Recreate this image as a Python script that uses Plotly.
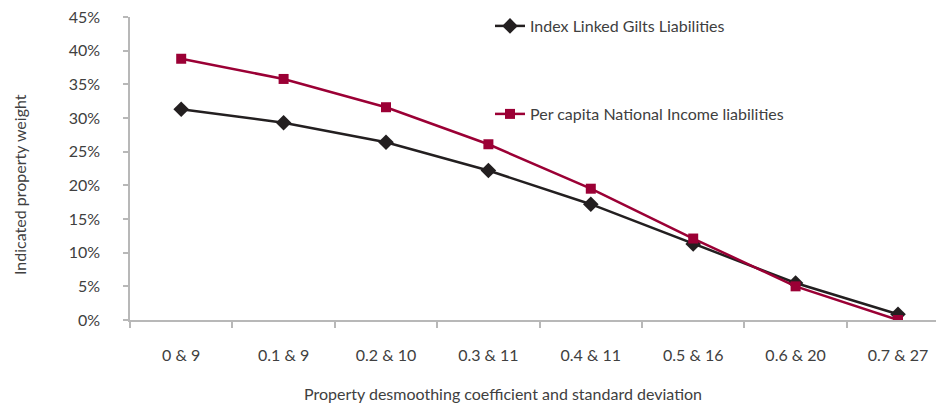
import plotly.graph_objects as go

categories = ["0 & 9", "0.1 & 9", "0.2 & 10", "0.3 & 11", "0.4 & 11", "0.5 & 16", "0.6 & 20", "0.7 & 27"]
gilts = [0.313, 0.293, 0.264, 0.222, 0.172, 0.113, 0.055, 0.0085]
national_income = [0.388, 0.358, 0.316, 0.261, 0.195, 0.121, 0.050, 0.0]
y_ticks = [0, 0.05, 0.10, 0.15, 0.20, 0.25, 0.30, 0.35, 0.40, 0.45]

FONT = "Lato"
TXT = "#404040"
AX = "#b8b8b8"
BLACK = "#231f20"
RED = "#9b0035"

OFF = 8  # page body margin in the browser
W, H = 944 - OFF, 404 - OFF
L, T = 130 - OFF, 17 - OFF
AXIS_Y = 320 - OFF
B = H - AXIS_Y
R = 0

pw = W - L - R
ph = H - T - B
PX_PER_CAT = 102.4


def px_x(wx):
    return (wx - OFF - L) / pw


def px_y(wy):
    return (AXIS_Y - (wy - OFF)) / ph


fig = go.Figure()
fig.add_trace(go.Scatter(
    x=categories, y=gilts, mode="lines+markers", name="Index Linked Gilts Liabilities",
    line=dict(color=BLACK, width=2.5), marker=dict(symbol="diamond", size=12, color=BLACK),
    legend="legend",
))
fig.add_trace(go.Scatter(
    x=categories, y=national_income, mode="lines+markers", name="Per capita National Income liabilities",
    line=dict(color=RED, width=2.5), marker=dict(symbol="square", size=10, color=RED),
    legend="legend2",
))

fig.update_layout(
    width=W, height=H,
    margin=dict(l=L, r=R, t=T, b=B, autoexpand=False, pad=0),
    paper_bgcolor="white", plot_bgcolor="white",
    font=dict(family=FONT, size=15, color=TXT),
    xaxis=dict(
        type="category", range=[-0.5, -0.5 + pw / PX_PER_CAT], showgrid=False, zeroline=False,
        showline=True, linecolor=AX, linewidth=1.5,
        ticks="outside", ticklen=6, tickcolor=AX, tickwidth=1.5, tickson="boundaries",
        ticklabelstandoff=20, tickfont=dict(family=FONT, size=16, color=TXT),
    ),
    yaxis=dict(
        range=[0, 0.45], tickvals=y_ticks, tickformat=".0%", showgrid=False, zeroline=False,
        showline=True, linecolor=AX, linewidth=1.5, ticklabeloverflow="allow",
        ticks="outside", ticklen=5, tickcolor=AX, tickwidth=1.5,
        ticklabelstandoff=20, tickfont=dict(family=FONT, size=16, color=TXT),
    ),
    legend=dict(x=px_x(490), y=px_y(26), xanchor="left", yanchor="middle",
                bgcolor="rgba(0,0,0,0)", font=dict(family=FONT, size=16, color=TXT)),
    legend2=dict(x=px_x(490), y=px_y(114), xanchor="left", yanchor="middle",
                 bgcolor="rgba(0,0,0,0)", font=dict(family=FONT, size=16, color=TXT)),
    showlegend=True,
    annotations=[
        dict(text="Indicated property weight", xref="paper", yref="paper",
             x=px_x(19), y=px_y(185), textangle=-90, showarrow=False,
             xanchor="center", yanchor="middle", font=dict(family=FONT, size=16, color=TXT)),
        dict(text="Property desmoothing coefficient and standard deviation", xref="paper", yref="paper",
             x=px_x(503), y=px_y(393), showarrow=False,
             xanchor="center", yanchor="middle", font=dict(family=FONT, size=16, color=TXT)),
    ],
)

fig.write_html("out.html")
